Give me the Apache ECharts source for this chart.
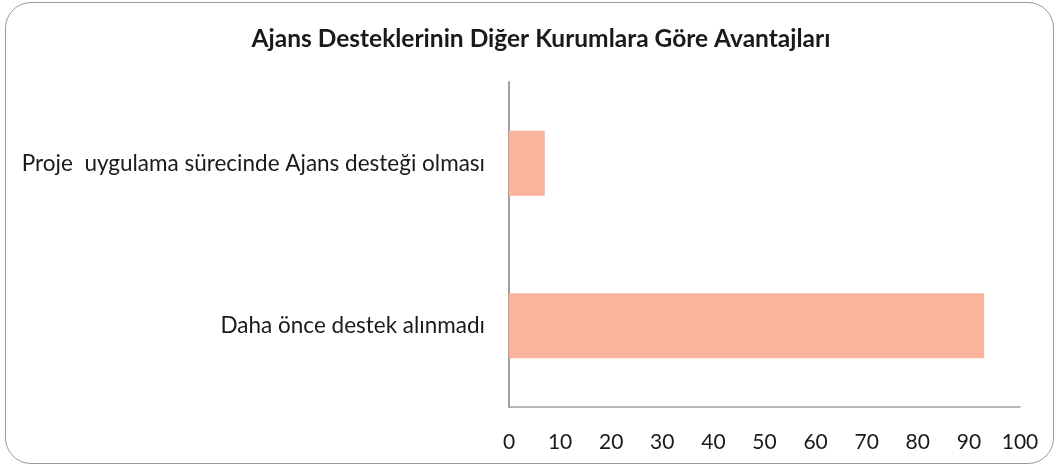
<!DOCTYPE html>
<html><head><meta charset="utf-8">
<script src="https://cdn.jsdelivr.net/npm/echarts@6/dist/echarts.min.js"></script>
<style>
html,body{margin:0;padding:0;background:#fff;}
#frame{position:absolute;left:5px;top:2px;width:1049px;height:462px;border:1.5px solid #9a9a9a;border-radius:26px;box-sizing:border-box;}
#c{position:absolute;left:0;top:0;width:1060px;height:471px;}
</style></head>
<body>
<div id="frame"></div>
<div id="c"></div>
<script>
const title = 'Ajans Desteklerinin Diğer Kurumlara Göre Avantajları';
const categories = ['Daha önce destek alınmadı', 'Proje  uygulama sürecinde Ajans desteği olması'];
const values = [93, 7];
const xTicks = [0, 10, 20, 30, 40, 50, 60, 70, 80, 90, 100];

const chart = echarts.init(document.getElementById('c'));
chart.setOption({
  animation: false,
  title: {
    text: title, left: 536, top: 22, textAlign: 'center',
    textStyle: {fontFamily: 'Lato', fontWeight: 'bold', fontSize: 24.5, color: '#1a1a1a'}
  },
  grid: {left: 509, right: 40, top: 82, bottom: 64, containLabel: false},
  xAxis: {
    type: 'value', min: 0, max: 100, interval: 10,
    axisLine: {show: true, lineStyle: {color: '#a0a0a0', width: 1.5}},
    axisTick: {show: false},
    splitLine: {show: false},
    axisLabel: {fontFamily: 'Lato', fontSize: 21, color: '#1a1a1a', margin: 25,
      formatter: v => xTicks.includes(v) ? String(v) : ''}
  },
  yAxis: {
    type: 'category', data: categories,
    axisLine: {show: true, lineStyle: {color: '#a0a0a0', width: 2}},
    axisTick: {show: false},
    axisLabel: {fontFamily: 'Lato', fontSize: 22.5, color: '#1a1a1a', margin: 24}
  },
  series: [{
    type: 'bar', data: values, barCategoryGap: '60%',
    itemStyle: {color: '#F9B49B'}
  }]
});
</script>
</body></html>
